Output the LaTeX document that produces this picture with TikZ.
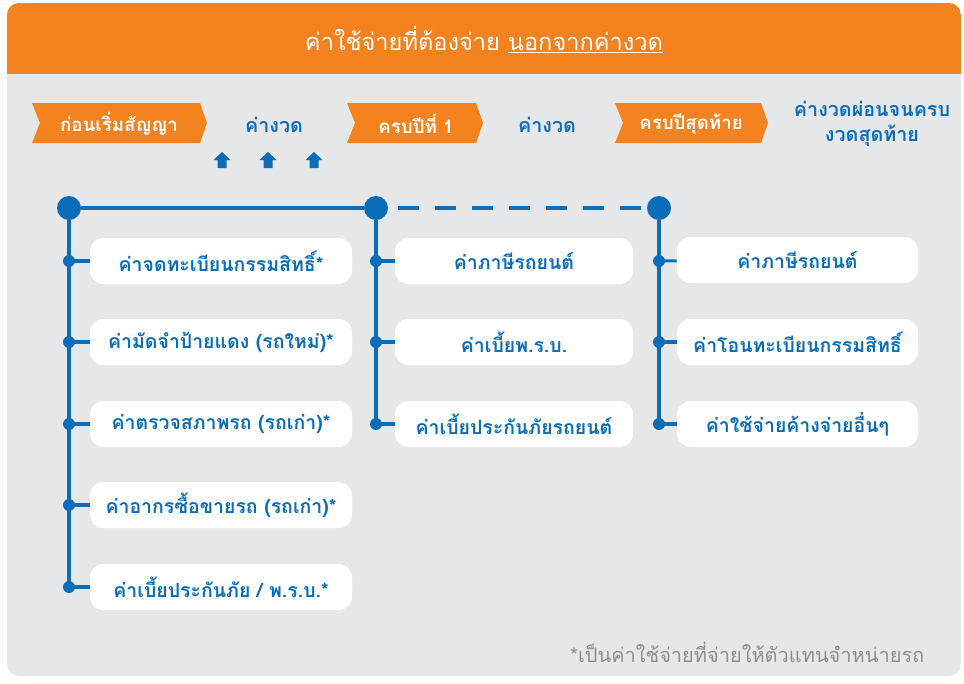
\documentclass[tikz,border=0pt]{standalone}
\usepackage{fontspec}
\setmainfont{Loma}[Script=Thai]
\definecolor{orng}{HTML}{F3821F}
\definecolor{blu}{HTML}{0B6DB8}
\definecolor{bgg}{HTML}{E6E7E9}
\definecolor{notegray}{HTML}{8E8E8E}
\begin{document}
\begin{tikzpicture}[x=0.75pt,y=-0.75pt,
  boxL/.style={fill=white,rounded corners=10pt,minimum width=196.5pt,minimum height=34.5pt,inner sep=0pt,text=blu,font=\bfseries\fontsize{14.6}{17}\selectfont},
  boxM/.style={boxL,minimum width=178.5pt},
  boxR/.style={boxL,minimum width=180.75pt},
  bigdot/.style={circle,fill=blu,minimum size=18pt,inner sep=0pt},
  smalldot/.style={circle,fill=blu,minimum size=9pt,inner sep=0pt},
  tl/.style={draw=blu,line width=2.3pt},
  chevtext/.style={text=white,font=\bfseries\fontsize{14}{16}\selectfont},
  bluetext/.style={text=blu,font=\bfseries\fontsize{14.8}{18.5}\selectfont,align=center},
  chev/.style={fill=orng},
  uparrow/.style={fill=blu}
]
\useasboundingbox (0,0) rectangle (964,683);
% card
\begin{scope}
  \clip[rounded corners=9pt] (7,3) rectangle (961,676);
  \fill[bgg] (7,3) rectangle (961,676);
  \fill[orng] (7,3) rectangle (961,74);
\end{scope}
% title
\node[text=white,font=\fontsize{17.7}{21}\selectfont] (title) at (484,40) {ค่าใช้จ่ายที่ต้องจ่าย \underline{นอกจากค่างวด}};
% chevrons
\fill[chev] (32,103) -- (200,103) -- (207,123) -- (200,143) -- (32,143) -- (40,123) -- cycle;
\fill[chev] (347,103) -- (476,103) -- (483,123) -- (476,143) -- (347,143) -- (355,123) -- cycle;
\fill[chev] (615,103) -- (761,103) -- (768,123) -- (761,143) -- (615,143) -- (623,123) -- cycle;
\node[chevtext] (ch1) at (119,124) {ก่อนเริ่มสัญญา};
\node[chevtext] (ch2) at (416,124) {ครบปีที่ 1};
\node[chevtext] (ch3) at (691,124) {ครบปีสุดท้าย};
\node[bluetext] (ng1) at (274,125) {ค่างวด};
\node[bluetext] (ng2) at (547,125) {ค่างวด};
\node[bluetext] (ng3) at (872,124) {ค่างวดผ่อนจนครบ\\งวดสุดท้าย};
% up arrows
\foreach \ax in {222,268,314}{
  \fill[uparrow] (\ax-8.5,160) -- (\ax,152) -- (\ax+8.5,160) -- (\ax+4.5,160) -- (\ax+4.5,168) -- (\ax-4.5,168) -- (\ax-4.5,160) -- cycle;
}
% timeline dots
\node[bigdot] (c1) at (69,208) {};
\node[bigdot] (c2) at (376,208) {};
\node[bigdot] (c3) at (659,208) {};
% left column
\node[smalldot] (l1) at (69,261) {};
\node[smalldot] (l2) at (69,342) {};
\node[smalldot] (l3) at (69,424) {};
\node[smalldot] (l4) at (69,505) {};
\node[smalldot] (l5) at (69,587) {};
\node[boxL] (bl1) at (221,261) {ค่าจดทะเบียนกรรมสิทธิ์*};
\node[boxL] (bl2) at (221,342) {ค่ามัดจำป้ายแดง (รถใหม่)*};
\node[boxL] (bl3) at (221,424) {ค่าตรวจสภาพรถ (รถเก่า)*};
\node[boxL] (bl4) at (221,505) {ค่าอากรซื้อขายรถ (รถเก่า)*};
\node[boxL] (bl5) at (221,587) {ค่าเบี้ยประกันภัย / พ.ร.บ.*};
% middle column
\node[smalldot] (m1) at (376,261) {};
\node[smalldot] (m2) at (376,342) {};
\node[smalldot] (m3) at (376,424) {};
\node[boxM] (bm1) at (514,261) {ค่าภาษีรถยนต์};
\node[boxM] (bm2) at (514,342) {ค่าเบี้ยพ.ร.บ.};
\node[boxM] (bm3) at (514,424) {ค่าเบี้ยประกันภัยรถยนต์};
% right column
\node[smalldot] (r1) at (659,261) {};
\node[smalldot] (r2) at (659,342) {};
\node[smalldot] (r3) at (659,424) {};
\node[boxR] (br1) at (797.5,260) {ค่าภาษีรถยนต์};
\node[boxR] (br2) at (797.5,342) {ค่าโอนทะเบียนกรรมสิทธิ์};
\node[boxR] (br3) at (797.5,424) {ค่าใช้จ่ายค้างจ่ายอื่นๆ};
% connectors
\draw[tl] (c1) -- (c2);
\draw[tl,dash pattern=on 15.75pt off 12pt,dash phase=20.25pt] (c2) -- (c3);
\draw[tl] (c1) -- (l5.center);
\draw[tl] (c2) -- (m3.center);
\draw[tl] (c3) -- (r3.center);
\foreach \d/\b in {l1/bl1,l2/bl2,l3/bl3,l4/bl4,l5/bl5,m1/bm1,m2/bm2,m3/bm3,r1/br1,r2/br2,r3/br3}{
  \draw[tl] (\d.center) -- (\b);
}
% footnote
\node[anchor=east,text=notegray,font=\fontsize{15}{18}\selectfont] (note) at (929,652) {*เป็นค่าใช้จ่ายที่จ่ายให้ตัวแทนจำหน่ายรถ};
\end{tikzpicture}
\end{document}
